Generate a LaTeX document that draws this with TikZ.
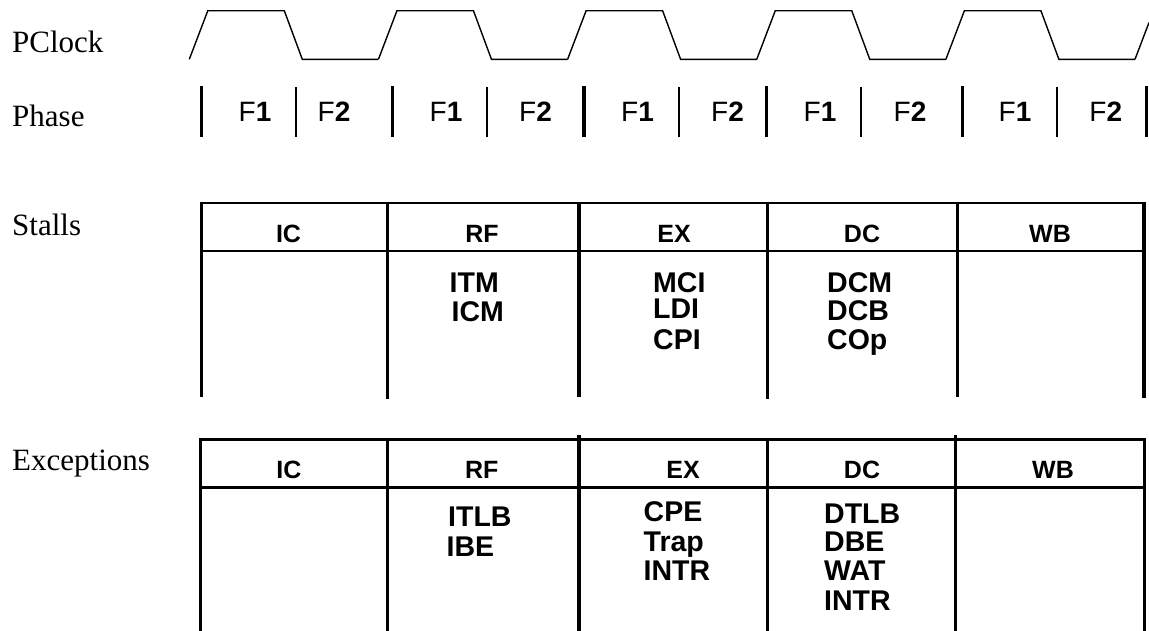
\documentclass[tikz,border=0pt]{standalone}
\usepackage{fontspec}
\setmainfont{Liberation Serif}
\newfontfamily\phasefont{Liberation Sans}
\newfontfamily\cellfont{Liberation Sans}

\tikzset{
rowlabel/.style={anchor=base west,inner sep=0pt,font=\fontsize{31}{36}\selectfont},
phasetxt/.style={anchor=base,inner sep=0pt,font=\phasefont\fontsize{28}{32}\selectfont},
stagehd/.style={anchor=base,inner sep=0pt,font=\cellfont\bfseries\fontsize{25}{30}\selectfont},
cause/.style={anchor=base west,inner sep=0pt,font=\cellfont\bfseries\fontsize{28.5}{32}\selectfont},
wave/.style={line width=1.4pt,line join=miter},
bigbar/.style={line width=3.3pt},
smallbar/.style={line width=2pt},
rowline/.style={line width=2.4pt},
colline/.style={line width=3.2pt}
}

\begin{document}
\begin{tikzpicture}[x=1pt,y=-1pt]
\useasboundingbox (0,0) rectangle (1149,630);

% row labels
\node[rowlabel] (lclk) at (12,52.3) {PClock};
\node[rowlabel] (lph) at (12,126) {Phase};
\node[rowlabel] (lst) at (12,235) {Stalls};
\node[rowlabel] (lexc) at (12,470) {Exceptions};

% clock
\foreach \k in {0,...,4}{
  \pgfmathsetmacro{\xa}{189.3+189.15*\k}
  \draw[wave] (\xa,59.3) -- (\xa+18.5,10.7) -- (\xa+95,10.7) -- (\xa+113,59.3) -- (\xa+189.15,59.3);
}
\draw[wave] (1135,59.3) -- (1149,22.5);

% phases
\foreach \x in {201.7,392.3,584,766.7,962.3,1146.7}
  \draw[bigbar] (\x,86) -- (\x,136.7);
\foreach \x in {295.7,486.7,679,861,1056.7}
  \draw[smallbar] (\x,87.3) -- (\x,136.7);
\foreach \x/\d [count=\i] in {255/1,334/2,446/1,535.5/2,637.5/1,727.5/2,820/1,910/2,1015/1,1105.8/2}
  \node[phasetxt] (ph\i) at (\x,121.7) {F\textbf{\d}};

% stalls table
\draw[rowline] (200,202.7) -- (1145.6,202.7);
\draw[rowline] (200,250.7) -- (1145.6,250.7);
\foreach \x/\bot in {201.7/397,387.5/399,579/397,767.5/399,957.7/397,1144/398}
  \draw[colline] (\x,201.5) -- (\x,\bot);
\foreach \x/\t [count=\i] in {288.5/IC,482/RF,674/EX,862/DC,1050/WB}
  \node[stagehd] (sh\i) at (\x,242.7) {\t};

\node[cause] (itm) at (449.5,292.5) {ITM};
\node[cause] (icm) at (451.5,321.5) {ICM};
\node[cause] (mci) at (653,292) {MCI};
\node[cause] (ldi) at (653,318.5) {LDI};
\node[cause] (cpi) at (653,349.3) {CPI};
\node[cause] (dcm) at (827,292) {DCM};
\node[cause] (dcb) at (827,320.7) {DCB};
\node[cause] (cop) at (827,349) {COp};

% exceptions table
\draw[rowline] (199,439.5) -- (1146,439.5);
\draw[rowline] (199,487.5) -- (1146,487.5);
\foreach \x/\tp in {200.7/438.3,387.7/438.3,579/435,767.4/438.3,955.4/435,1144.5/438.3}
  \draw[colline] (\x,\tp) -- (\x,631);
\foreach \x/\t [count=\i] in {288.8/IC,481.7/RF,683/EX,862/DC,1053/WB}
  \node[stagehd] (eh\i) at (\x,478.3) {\t};

\node[cause] (itlb) at (448,526.7) {ITLB};
\node[cause] (ibe) at (446.5,556.7) {IBE};
\node[cause] (cpe) at (643.5,521.7) {CPE};
\node[cause] (trap) at (643.5,551.7) {Trap};
\node[cause] (intrx) at (643.5,580) {INTR};
\node[cause] (dtlb) at (824,523.3) {DTLB};
\node[cause] (dbe) at (824,551.7) {DBE};
\node[cause] (wat) at (824,580) {WAT};
\node[cause] (intrd) at (824,610) {INTR};
\end{tikzpicture}
\end{document}
